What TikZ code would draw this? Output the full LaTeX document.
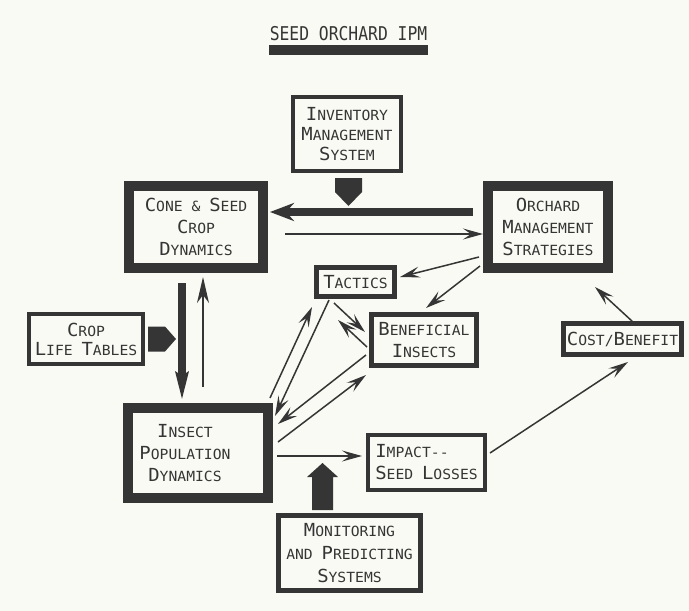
\documentclass[tikz,border=0pt]{standalone}
\usepackage{fontspec}
\setmainfont{DejaVu Sans Mono}[FakeStretch=1.05]
\newfontfamily\titlefont{DejaVu Sans Mono}[FakeStretch=0.86]
\usetikzlibrary{arrows.meta,calc}
\definecolor{ink}{HTML}{353535}
\definecolor{paper}{HTML}{FAFAF4}
\newcommand\Bg[1]{{\fontsize{18}{22}\selectfont #1}}
\tikzset{
  boxbase/.style={draw=ink, rectangle, inner sep=0pt, text=ink, align=center,
    font=\fontsize{14}{22}\selectfont},
  thickbox/.style={boxbase, line width=10pt},
  medbox/.style={boxbase, line width=5pt},
  lbl/.style={inner sep=0pt, text=ink, align=center, font=\fontsize{14}{22}\selectfont},
  tarr/.style={draw=ink, line width=1.5pt, -{Stealth[length=20pt,width=11pt,inset=8pt]}},
  tarrb/.style={draw=ink, line width=1.5pt, -{Stealth[length=26pt,width=12pt,inset=8pt]}},
  fatarr/.style={draw=ink, line width=8pt, -{Stealth[length=24pt,width=18pt,inset=8pt]}},
  fatv/.style={draw=ink, line width=8pt, -{Stealth[length=28pt,width=12pt,inset=3pt]}},
  fatshape/.style={fill=ink}
}
\begin{document}
\begin{tikzpicture}[x=1pt,y=-1pt]
\fill[paper] (0,0) rectangle (689,611);
\useasboundingbox (0,0) rectangle (689,611);

% title
\node[inner sep=0pt, text=ink, font=\titlefont\fontsize{19}{19}\selectfont] (title) at (348.5,34) {SEED ORCHARD IPM};
\fill[ink] ($(title.south west)+(-1,4)$) rectangle ($(title.south east)+(1,14)$);

% boxes
\node[medbox, line width=4pt, minimum width=108pt, minimum height=74pt, font=\fontsize{14}{20}\selectfont] (inv) at (347,134)
  {\Bg{I}NVENTORY\\\Bg{M}ANAGEMENT\\\Bg{S}YSTEM};
\node[thickbox, minimum width=134pt, minimum height=82pt] (cone) at (196,227)
  {\Bg{C}ONE \& \Bg{S}EED\\\Bg{C}ROP\\\Bg{D}YNAMICS};
\node[thickbox, minimum width=120pt, minimum height=82pt] (orch) at (548,227)
  {\Bg{O}RCHARD\\\Bg{M}ANAGEMENT\\\Bg{S}TRATEGIES};
\node[medbox, minimum width=78pt, minimum height=29pt] (tac) at (355.5,282)
  {\Bg{T}ACTICS};
\node[medbox, minimum width=105pt, minimum height=51pt] (ben) at (424,340)
  {\Bg{B}ENEFICIAL\\\Bg{I}NSECTS};
\node[medbox, line width=4pt, minimum width=114pt, minimum height=50pt, font=\fontsize{14}{19}\selectfont] (crop) at (86,339)
  {\Bg{C}ROP\\\Bg{L}IFE \Bg{T}ABLES};
\node[thickbox, minimum width=140pt, minimum height=90pt] (ins) at (198,453) {};
\node[lbl] (inslbl) at (185,453) {\Bg{I}NSECT\\\Bg{P}OPULATION\\\Bg{D}YNAMICS};
\node[medbox, line width=4pt, minimum width=117pt, minimum height=55pt, align=left] (imp) at (426.5,462.5)
  {\Bg{I}MPACT-{}-\\\Bg{S}EED \Bg{L}OSSES};
\node[medbox, minimum width=118pt, minimum height=31pt] (cost) at (622.5,339)
  {\Bg{C}OST/\Bg{B}ENEFIT};
\node[medbox, minimum width=142pt, minimum height=75pt, font=\fontsize{14}{23}\selectfont] (mon) at (349.5,553)
  {\Bg{M}ONITORING\\AND \Bg{P}REDICTING\\\Bg{S}YSTEMS};

% fat block arrows
\fill[fatshape] ($(inv.south)+(-12,5)$) -- ++(27,0) -- ++(0,14) -- ++(-13.5,14) -- ++(-13.5,-14) -- cycle;
\fill[fatshape] ($(crop.east)+(3,-12.5)$) -- ++(17,0) -- ++(11,12.5) -- ++(-11,12.5) -- ++(-17,0) -- cycle;
\fill[fatshape] ($(mon.north)+(-37.5,-3)$) -- ++(0,-33) -- ++(-5,0) -- ++(15.5,-14) -- ++(15.5,14) -- ++(-5,0) -- ++(0,33) -- cycle;

% thick connectors
\draw[fatarr] ($(orch.west)+(-10,-15)$) -- ($(cone.east)+(2,-15)$);
\draw[fatv] ($(cone.south)+(-14,10)$) -- ($(ins.north)+(-16,-2)$);
\draw[tarrb] ($(ins.north)+(5,-16)$) -- ($(cone.south)+(7,4)$);

% thin connectors
\draw[tarr] ($(cone.east)+(17,7)$) -- ($(orch.west)+(0,7)$);
\draw[tarr] ($(orch.west)+(-4,30)$) -- ($(tac.east)+(3,-5)$);
\draw[tarr] ($(orch.west)+(-3,39)$) -- ($(ben.north)+(2,-4)$);
\draw[tarr] ($(tac.south)+(-21.5,4)$) -- ($(ben.west)+(-4,-8)$);
\draw[tarr] ($(ben.west)+(-2,7)$) -- ($(tac.south)+(-17.5,21)$);
\draw[tarr] ($(ins.north east)+(-3,-5)$) -- ($(tac.south west)+(-2,8)$);
\draw[tarr] ($(tac.south)+(-26.5,1)$) -- ($(ins.north east)+(2,13)$);
\draw[tarr] ($(ben.west)+(-3,15)$) -- ($(ins.north east)+(5,21)$);
\draw[tarr] ($(ins.east)+(5,-11)$) -- ($(ben.south west)+(-3,7)$);
\draw[tarr] ($(ins.east)+(4,3)$) -- ($(imp.west)+(-4,-6.5)$);
\draw[tarr] ($(imp.east)+(3,-9.5)$) -- ($(cost.south)+(5.5,5)$);
\draw[tarr] ($(cost.north)+(10.5,1)$) -- ($(orch.south)+(47,14)$);
\end{tikzpicture}
\end{document}
